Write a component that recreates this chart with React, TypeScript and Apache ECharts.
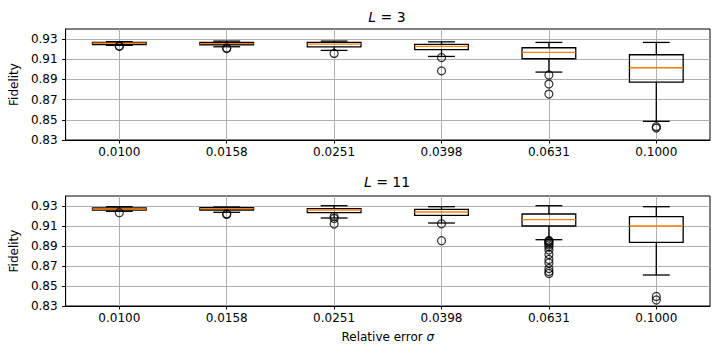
import React, { useEffect, useRef } from 'react';
import * as echarts from 'echarts';

const categories = ['0.0100', '0.0158', '0.0251', '0.0398', '0.0631', '0.1000'];
const yTicks = [0.83, 0.85, 0.87, 0.89, 0.91, 0.93];

// L = 3
const l3WhiskerLow = [0.9238, 0.9224, 0.9188, 0.9128, 0.8973, 0.8485];
const l3Q1 = [0.9245, 0.9244, 0.9222, 0.9195, 0.9105, 0.8874];
const l3Median = [0.926, 0.9256, 0.925, 0.9228, 0.9168, 0.9016];
const l3Q3 = [0.9266, 0.9267, 0.9267, 0.9247, 0.9214, 0.9145];
const l3WhiskerHigh = [0.9275, 0.928, 0.928, 0.9273, 0.9267, 0.9267];
const l3Outliers: number[][] = [
  [0.9231, 0.9228],
  [0.9212, 0.9206],
  [0.9158],
  [0.9117, 0.8985],
  [0.8944, 0.8854, 0.8755],
  [0.8432, 0.8418],
];

// L = 11
const l11WhiskerLow = [0.9247, 0.9237, 0.918, 0.913, 0.8963, 0.861];
const l11Q1 = [0.926, 0.926, 0.9233, 0.9207, 0.91, 0.8937];
const l11Median = [0.927, 0.9273, 0.926, 0.924, 0.9163, 0.91];
const l11Q3 = [0.928, 0.9283, 0.9273, 0.9267, 0.922, 0.9193];
const l11WhiskerHigh = [0.9293, 0.929, 0.9303, 0.9293, 0.9303, 0.9293];
const l11Outliers: number[][] = [
  [0.9233],
  [0.9222, 0.9216],
  [0.9195, 0.9175, 0.912],
  [0.9122, 0.8953],
  [0.8955, 0.8948, 0.894, 0.8925, 0.891, 0.889, 0.886, 0.8815, 0.8765, 0.873, 0.8675, 0.8645, 0.8625],
  [0.8395, 0.836],
];

const FONT = 'DejaVu Sans';
const LW = 1.3;

const renderBox = (params: any, api: any) => {
  const idx = api.value(0);
  const band = api.size([1, 0])[0];
  const cx = api.coord([idx, api.value(3)])[0];
  const yWl = api.coord([idx, api.value(1)])[1];
  const yQ1 = api.coord([idx, api.value(2)])[1];
  const yMed = api.coord([idx, api.value(3)])[1];
  const yQ3 = api.coord([idx, api.value(4)])[1];
  const yWh = api.coord([idx, api.value(5)])[1];
  const hw = band * 0.25;
  const ch = band * 0.125;
  const ls = { stroke: '#000', lineWidth: LW };
  return {
    type: 'group',
    children: [
      { type: 'line', shape: { x1: cx, y1: yQ3, x2: cx, y2: yWh }, style: ls },
      { type: 'line', shape: { x1: cx, y1: yQ1, x2: cx, y2: yWl }, style: ls },
      { type: 'line', shape: { x1: cx - ch, y1: yWh, x2: cx + ch, y2: yWh }, style: ls },
      { type: 'line', shape: { x1: cx - ch, y1: yWl, x2: cx + ch, y2: yWl }, style: ls },
      {
        type: 'rect',
        shape: { x: cx - hw, y: yQ3, width: 2 * hw, height: Math.max(yQ1 - yQ3, 0.5) },
        style: { fill: 'none', stroke: '#000', lineWidth: LW },
      },
      { type: 'line', shape: { x1: cx - hw, y1: yMed, x2: cx + hw, y2: yMed }, style: { stroke: '#ff7f0e', lineWidth: LW } },
    ],
  };
};

const boxData = (wl: number[], q1: number[], med: number[], q3: number[], wh: number[]) =>
  categories.map((_, i) => [i, wl[i], q1[i], med[i], q3[i], wh[i]]);

const outlierData = (out: number[][]) => {
  const res: number[][] = [];
  out.forEach((vals, i) => vals.forEach((v) => res.push([i, v])));
  return res;
};

const makeXAxis = (gridIndex: number, withName: boolean) => ({
  type: 'category',
  gridIndex,
  data: categories,
  boundaryGap: true,
  axisLine: { show: true, lineStyle: { color: '#000', width: 1 } },
  axisTick: { show: true, alignWithLabel: true, length: 3.5, lineStyle: { color: '#000', width: 1 } },
  axisLabel: { color: '#000', fontSize: 12, fontFamily: FONT, margin: 6 },
  splitLine: { show: true, alignWithLabel: true, lineStyle: { color: '#b0b0b0', width: 1 } },
  ...(withName
    ? {
        name: '{n|Relative error }{i|σ}',
        nameLocation: 'middle',
        nameGap: 25,
        nameTextStyle: {
          color: '#000',
          fontSize: 12,
          fontFamily: FONT,
          rich: {
            n: { fontSize: 12, fontFamily: FONT, color: '#000' },
            i: { fontSize: 12, fontFamily: FONT, color: '#000', fontStyle: 'italic' },
          },
        },
      }
    : {}),
});

const makeYAxis = (gridIndex: number) => ({
  type: 'value',
  gridIndex,
  min: 0.83,
  max: 0.94,
  name: 'Fidelity',
  nameLocation: 'middle',
  nameGap: 42,
  nameTextStyle: { color: '#000', fontSize: 12, fontFamily: FONT },
  axisLine: { show: true, lineStyle: { color: '#000', width: 1 } },
  axisTick: { show: true, length: 3.5, lineStyle: { color: '#000', width: 1 }, customValues: yTicks },
  axisLabel: {
    color: '#000',
    fontSize: 12,
    fontFamily: FONT,
    margin: 8,
    customValues: yTicks,
    formatter: (v: number) => v.toFixed(2),
  },
  splitLine: { show: true, lineStyle: { color: '#b0b0b0', width: 1 } },
});

const titleText = (txt: string, y: number) => ({
  type: 'text',
  x: 387,
  y,
  style: {
    text: `{i|L}{n| = ${txt}}`,
    fontSize: 14,
    fontFamily: FONT,
    fill: '#000',
    align: 'center',
    verticalAlign: 'middle',
    rich: {
      i: { fontSize: 14, fontFamily: FONT, fontStyle: 'italic', fill: '#000' },
      n: { fontSize: 14, fontFamily: FONT, fill: '#000' },
    },
  },
});

export default function App() {
  const ref = useRef<HTMLDivElement>(null);
  useEffect(() => {
    if (!ref.current) return;
    const chart = echarts.init(ref.current, undefined, { renderer: 'svg' });
    const outlierStyle = { color: 'rgba(0,0,0,0)', borderColor: '#000', borderWidth: 1.2 };
    chart.setOption({
      animation: false,
      backgroundColor: '#fff',
      textStyle: { fontFamily: FONT },
      grid: [
        { left: 64, right: 9, top: 29, height: 111, show: true, borderColor: '#000', borderWidth: 1, backgroundColor: 'rgba(0,0,0,0)' },
        { left: 64, right: 9, top: 196, height: 110, show: true, borderColor: '#000', borderWidth: 1, backgroundColor: 'rgba(0,0,0,0)' },
      ],
      xAxis: [makeXAxis(0, false), makeXAxis(1, true)],
      yAxis: [makeYAxis(0), makeYAxis(1)],
      graphic: [titleText('3', 16.7), titleText('11', 182.3)],
      series: [
        {
          type: 'custom',
          xAxisIndex: 0,
          yAxisIndex: 0,
          renderItem: renderBox,
          encode: { x: 0, y: [1, 2, 3, 4, 5] },
          data: boxData(l3WhiskerLow, l3Q1, l3Median, l3Q3, l3WhiskerHigh),
          z: 3,
        },
        {
          type: 'scatter',
          xAxisIndex: 0,
          yAxisIndex: 0,
          symbol: 'circle',
          symbolSize: 8,
          itemStyle: outlierStyle,
          data: outlierData(l3Outliers),
          z: 4,
        },
        {
          type: 'custom',
          xAxisIndex: 1,
          yAxisIndex: 1,
          renderItem: renderBox,
          encode: { x: 0, y: [1, 2, 3, 4, 5] },
          data: boxData(l11WhiskerLow, l11Q1, l11Median, l11Q3, l11WhiskerHigh),
          z: 3,
        },
        {
          type: 'scatter',
          xAxisIndex: 1,
          yAxisIndex: 1,
          symbol: 'circle',
          symbolSize: 8,
          itemStyle: outlierStyle,
          data: outlierData(l11Outliers),
          z: 4,
        },
      ],
    });
    return () => chart.dispose();
  }, []);
  return <div ref={ref} style={{ position: 'fixed', left: 0, top: 0, width: 719, height: 355 }} />;
}
